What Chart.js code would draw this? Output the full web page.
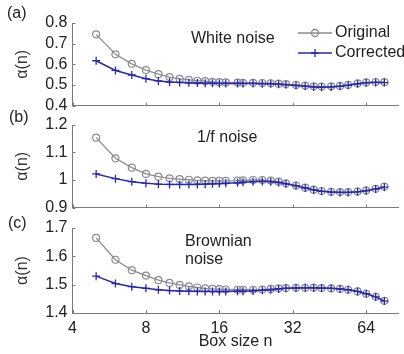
<!DOCTYPE html>
<html>
<head>
<meta charset="utf-8">
<script src="https://cdn.jsdelivr.net/npm/chart.js@4.4.1/dist/chart.umd.min.js"></script>
<style>
    body { margin: 0; background: #fff; }
    #wrap { position: relative; width: 404px; height: 354px; font-family: 'Liberation Sans', Arial, sans-serif; color: #222; }
    canvas { position: absolute; left: 0; top: 0; }
    .txt { position: absolute; font-size: 16px; line-height: 18px; white-space: nowrap; }
</style>
</head>
<body>
<div id="wrap">
    <canvas id="chartA" width="404" height="354"></canvas>
    <canvas id="chartB" width="404" height="354"></canvas>
    <canvas id="chartC" width="404" height="354"></canvas>
    <div class="txt" style="left:7px;top:4px">(a)</div>
    <div class="txt" style="left:9px;top:108px">(b)</div>
    <div class="txt" style="left:8px;top:214px">(c)</div>
    <div class="txt" style="left:191px;top:29px">White noise</div>
    <div class="txt" style="left:197px;top:128px">1/f noise</div>
    <div class="txt" style="left:185px;top:232px">Brownian<br>noise</div>
</div>
<script>
// box sizes n (x values)
const boxSizes = [5, 6, 7, 8, 9, 10, 11, 12, 13, 14, 15, 16, 17, 19, 20, 22, 24, 26, 28, 30, 33, 36, 39, 42, 46, 50, 54, 59, 64, 70, 76];
const xTicks = [4, 8, 16, 32, 64];

// (a) white noise
const whiteOriginal  = [0.745, 0.648, 0.602, 0.572, 0.552, 0.538, 0.529, 0.524, 0.520, 0.518, 0.515, 0.513, 0.512, 0.511, 0.510, 0.510, 0.509, 0.508, 0.506, 0.504, 0.500, 0.496, 0.493, 0.492, 0.493, 0.495, 0.500, 0.507, 0.512, 0.514, 0.513];
const whiteCorrected = [0.617, 0.570, 0.548, 0.530, 0.519, 0.514, 0.512, 0.510, 0.509, 0.508, 0.508, 0.507, 0.507, 0.507, 0.507, 0.507, 0.506, 0.505, 0.503, 0.501, 0.497, 0.493, 0.490, 0.489, 0.490, 0.493, 0.498, 0.505, 0.510, 0.512, 0.511];
const whiteTicks = [0.4, 0.5, 0.6, 0.7, 0.8];

// (b) 1/f noise
const pinkOriginal  = [1.154, 1.079, 1.045, 1.022, 1.012, 1.006, 1.003, 1.001, 0.999, 0.998, 0.997, 0.997, 0.997, 0.998, 0.999, 1.000, 1.000, 0.998, 0.994, 0.988, 0.980, 0.972, 0.965, 0.960, 0.957, 0.956, 0.956, 0.958, 0.962, 0.968, 0.976];
const pinkCorrected = [1.022, 1.005, 0.994, 0.988, 0.985, 0.984, 0.984, 0.984, 0.984, 0.985, 0.986, 0.987, 0.988, 0.990, 0.992, 0.994, 0.995, 0.994, 0.991, 0.986, 0.979, 0.971, 0.964, 0.959, 0.956, 0.955, 0.955, 0.957, 0.961, 0.967, 0.974];
const pinkTicks = [0.9, 1, 1.1, 1.2];

// (c) Brownian noise
const brownOriginal  = [1.665, 1.588, 1.551, 1.532, 1.516, 1.506, 1.499, 1.494, 1.490, 1.487, 1.485, 1.484, 1.483, 1.482, 1.482, 1.482, 1.483, 1.485, 1.487, 1.488, 1.489, 1.489, 1.489, 1.488, 1.487, 1.485, 1.482, 1.476, 1.468, 1.457, 1.443];
const brownCorrected = [1.530, 1.504, 1.493, 1.487, 1.482, 1.479, 1.478, 1.477, 1.476, 1.476, 1.476, 1.476, 1.476, 1.477, 1.477, 1.478, 1.480, 1.482, 1.485, 1.487, 1.488, 1.489, 1.489, 1.488, 1.487, 1.485, 1.482, 1.476, 1.468, 1.457, 1.442];
const brownTicks = [1.4, 1.5, 1.6, 1.7];

const ORIGINAL_COLOR = '#8c8c8c';
const CORRECTED_COLOR = '#2828b4';
const AXIS_COLOR = '#7a7a7a';
const FONT = { family: "'Liberation Sans', Arial, sans-serif", size: 16 };
const CANVAS_H = 354;
const AXIS_LEFT = 72.5;

// small tick marks pointing into the plot, like matlab
const innerTicks = {
    id: 'innerTicks',
    afterDraw(chart) {
        const { ctx, chartArea, scales } = chart;
        ctx.save();
        ctx.strokeStyle = AXIS_COLOR;
        ctx.lineWidth = 1;
        ctx.beginPath();
        scales.x.ticks.forEach(t => {
            const px = Math.round(scales.x.getPixelForValue(t.value)) + 0.5;
            ctx.moveTo(px, chartArea.bottom);
            ctx.lineTo(px, chartArea.bottom - 3);
        });
        scales.y.ticks.forEach(t => {
            const py = Math.round(scales.y.getPixelForValue(t.value)) + 0.5;
            ctx.moveTo(chartArea.left, py);
            ctx.lineTo(chartArea.left + 3, py);
        });
        ctx.stroke();
        ctx.restore();
    }
};

// legend drawn inside panel (a)
const legendBox = {
    id: 'legendBox',
    afterDraw(chart) {
        const ctx = chart.ctx;
        const items = [
            { label: 'Original', color: ORIGINAL_COLOR, style: 'circle', y: 33 },
            { label: 'Corrected', color: CORRECTED_COLOR, style: 'cross', y: 53 }
        ];
        ctx.save();
        items.forEach(it => {
            ctx.strokeStyle = it.color;
            ctx.fillStyle = 'rgba(0,0,0,0)';
            ctx.lineWidth = 1.3;
            ctx.beginPath();
            ctx.moveTo(298, it.y);
            ctx.lineTo(332, it.y);
            ctx.stroke();
            Chart.helpers.drawPoint(ctx, { pointStyle: it.style, radius: it.style === 'circle' ? 3.5 : 4, borderWidth: 1.3 }, 315, it.y);
            ctx.fillStyle = '#222';
            ctx.font = '16px ' + FONT.family;
            ctx.textBaseline = 'middle';
            ctx.fillText(it.label, 335, it.y);
        });
        ctx.restore();
    }
};

function makePanel(id, original, corrected, yTicks, top, bottom, isLast, extraPlugins) {
    return new Chart(document.getElementById(id), {
        type: 'line',
        data: {
            labels: boxSizes,
            datasets: [{
                label: 'Original',
                data: original,
                borderColor: ORIGINAL_COLOR,
                borderWidth: 1.3,
                pointStyle: 'circle',
                pointRadius: 3.5,
                pointBorderWidth: 1.2,
                pointBorderColor: ORIGINAL_COLOR,
                pointBackgroundColor: 'rgba(0,0,0,0)',
                order: 1
            }, {
                label: 'Corrected',
                data: corrected,
                borderColor: CORRECTED_COLOR,
                borderWidth: 1.5,
                pointStyle: 'cross',
                pointRadius: 4,
                pointBorderWidth: 1.3,
                pointBorderColor: CORRECTED_COLOR,
                order: 0
            }]
        },
        options: {
            responsive: false,
            animation: false,
            devicePixelRatio: 1,
            layout: { padding: { top: top, bottom: 0, left: 0, right: 0 } },
            plugins: { legend: { display: false }, tooltip: { enabled: false } },
            scales: {
                x: {
                    type: 'logarithmic',
                    min: 4,
                    max: 87,
                    grid: { display: false, drawTicks: false },
                    border: { display: true, color: AXIS_COLOR, width: 1 },
                    afterBuildTicks: scale => { scale.ticks = xTicks.map(v => ({ value: v })); },
                    afterFit: scale => { scale.height = CANVAS_H - bottom; },
                    ticks: {
                        display: isLast,
                        autoSkip: false,
                        maxRotation: 0,
                        color: '#222',
                        font: FONT,
                        padding: 6,
                        callback: v => String(v)
                    },
                    title: {
                        display: isLast,
                        text: 'Box size n',
                        color: '#222',
                        font: FONT,
                        padding: { top: 0, bottom: 3 }
                    }
                },
                y: {
                    min: yTicks[0],
                    max: yTicks[yTicks.length - 1],
                    grid: { display: false, drawTicks: false },
                    border: { display: true, color: AXIS_COLOR, width: 1 },
                    afterBuildTicks: scale => { scale.ticks = yTicks.map(v => ({ value: v })); },
                    afterFit: scale => { scale.width = AXIS_LEFT; },
                    ticks: {
                        autoSkip: false,
                        color: '#222',
                        font: FONT,
                        padding: 5,
                        callback: v => String(+v.toFixed(2))
                    },
                    title: {
                        display: true,
                        text: 'α(n)',
                        color: '#333',
                        font: FONT,
                        padding: { top: 13, bottom: 0 }
                    }
                }
            }
        },
        plugins: [innerTicks].concat(extraPlugins || [])
    });
}

makePanel('chartA', whiteOriginal, whiteCorrected, whiteTicks, 23, 105.5, false, [legendBox]);
makePanel('chartB', pinkOriginal, pinkCorrected, pinkTicks, 125, 207.5, false);
makePanel('chartC', brownOriginal, brownCorrected, brownTicks, 228, 313, true);
</script>
</body>
</html>
